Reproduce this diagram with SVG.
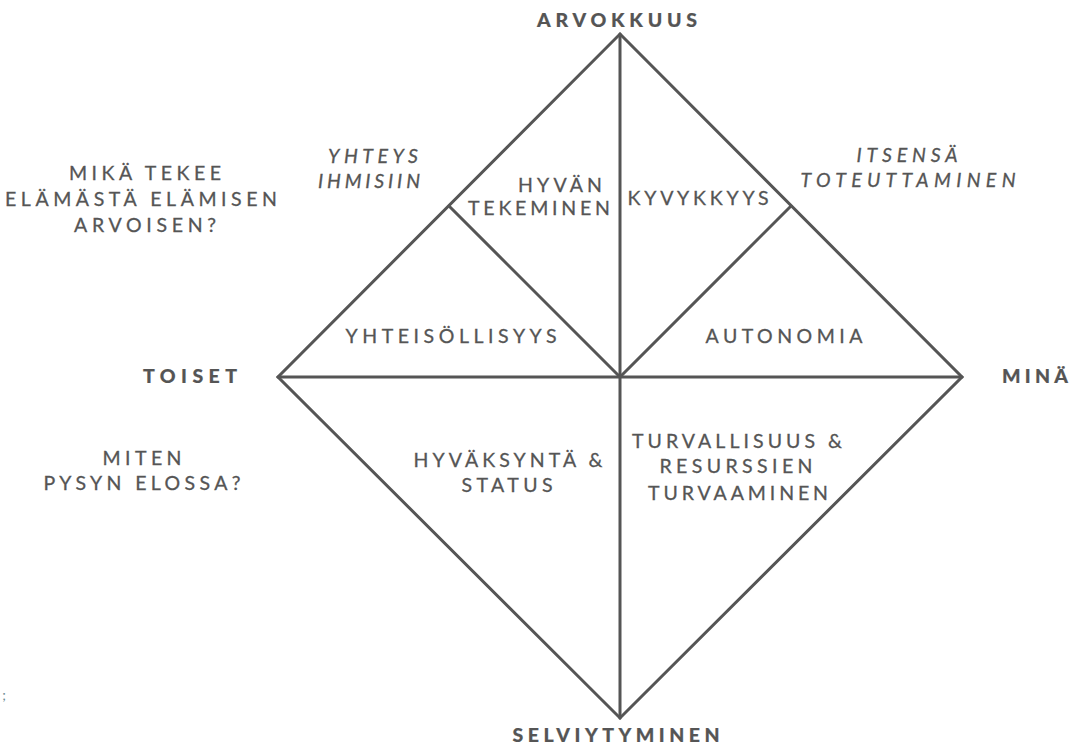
<svg xmlns="http://www.w3.org/2000/svg" width="1073" height="747" viewBox="0 0 1073 747">
<style>
.ln{stroke:#555;stroke-width:3;fill:none;stroke-linecap:round;stroke-linejoin:miter}
text{font-family:Lato,"Open Sans","Liberation Sans",sans-serif;fill:#555;font-size:19.5px;text-anchor:middle;stroke:#555;stroke-width:0.3}
.b{font-weight:900;font-size:19.5px;fill:#555;stroke-width:0.2}
.i{font-style:italic}
</style>
<rect width="1073" height="747" fill="#fff"/>
<g id="connectors">
<polygon class="ln" points="620,34 962,377 620,718 278,377"/>
<line class="ln" x1="620" y1="34" x2="620" y2="718"/>
<line class="ln" x1="278" y1="377" x2="962" y2="377"/>
<line class="ln" x1="449" y1="206" x2="620" y2="377"/>
<line class="ln" x1="791" y1="206" x2="620" y2="377"/>
</g>
<g id="arvokkuus"><text class="b" x="617" y="27" textLength="160" lengthAdjust="spacing">ARVOKKUUS</text></g>
<g id="selviytyminen"><text class="b" x="616" y="742" textLength="207" lengthAdjust="spacing">SELVIYTYMINEN</text></g>
<g id="toiset"><text class="b" x="190" y="383" textLength="94" lengthAdjust="spacing">TOISET</text></g>
<g id="mina"><text class="b" x="1035" y="383" textLength="66" lengthAdjust="spacing">MINÄ</text></g>
<g id="kysymys1">
<text x="145" y="180" textLength="152" lengthAdjust="spacing">MIKÄ TEKEE</text>
<text x="141" y="206" textLength="272" lengthAdjust="spacing">ELÄMÄSTÄ ELÄMISEN</text>
<text x="145" y="232" textLength="142" lengthAdjust="spacing">ARVOISEN?</text>
</g>
<g id="kysymys2">
<text x="142" y="465" textLength="79" lengthAdjust="spacing">MITEN</text>
<text x="142" y="490" textLength="197" lengthAdjust="spacing">PYSYN ELOSSA?</text>
</g>
<g id="yhteys">
<text class="i" x="373" y="163" textLength="90" lengthAdjust="spacing">YHTEYS</text>
<text class="i" x="369" y="188" textLength="102" lengthAdjust="spacing">IHMISIIN</text>
</g>
<g id="itsensa">
<text class="i" x="907" y="162" textLength="101" lengthAdjust="spacing">ITSENSÄ</text>
<text class="i" x="908" y="187" textLength="215" lengthAdjust="spacing">TOTEUTTAMINEN</text>
</g>
<g id="hyvan-tekeminen">
<text x="560" y="192" textLength="84" lengthAdjust="spacing">HYVÄN</text>
<text x="539" y="215" textLength="142" lengthAdjust="spacing">TEKEMINEN</text>
</g>
<g id="kyvykkyys"><text x="698" y="205" textLength="141" lengthAdjust="spacing">KYVYKKYYS</text></g>
<g id="yhteisollisyys"><text x="451" y="343" textLength="211" lengthAdjust="spacing">YHTEISÖLLISYYS</text></g>
<g id="autonomia"><text x="784" y="343" textLength="157" lengthAdjust="spacing">AUTONOMIA</text></g>
<g id="hyvaksynta">
<text x="508" y="467" textLength="189" lengthAdjust="spacing">HYVÄKSYNTÄ &amp;</text>
<text x="507" y="492" textLength="91" lengthAdjust="spacing">STATUS</text>
</g>
<g id="turvallisuus">
<text x="737" y="448" textLength="210" lengthAdjust="spacing">TURVALLISUUS &amp;</text>
<text x="736" y="473" textLength="153" lengthAdjust="spacing">RESURSSIEN</text>
<text x="738" y="500" textLength="180" lengthAdjust="spacing">TURVAAMINEN</text>
</g>
<text x="4" y="700" style="font-size:14px;fill:#6a8a90;stroke:none">;</text>
</svg>
